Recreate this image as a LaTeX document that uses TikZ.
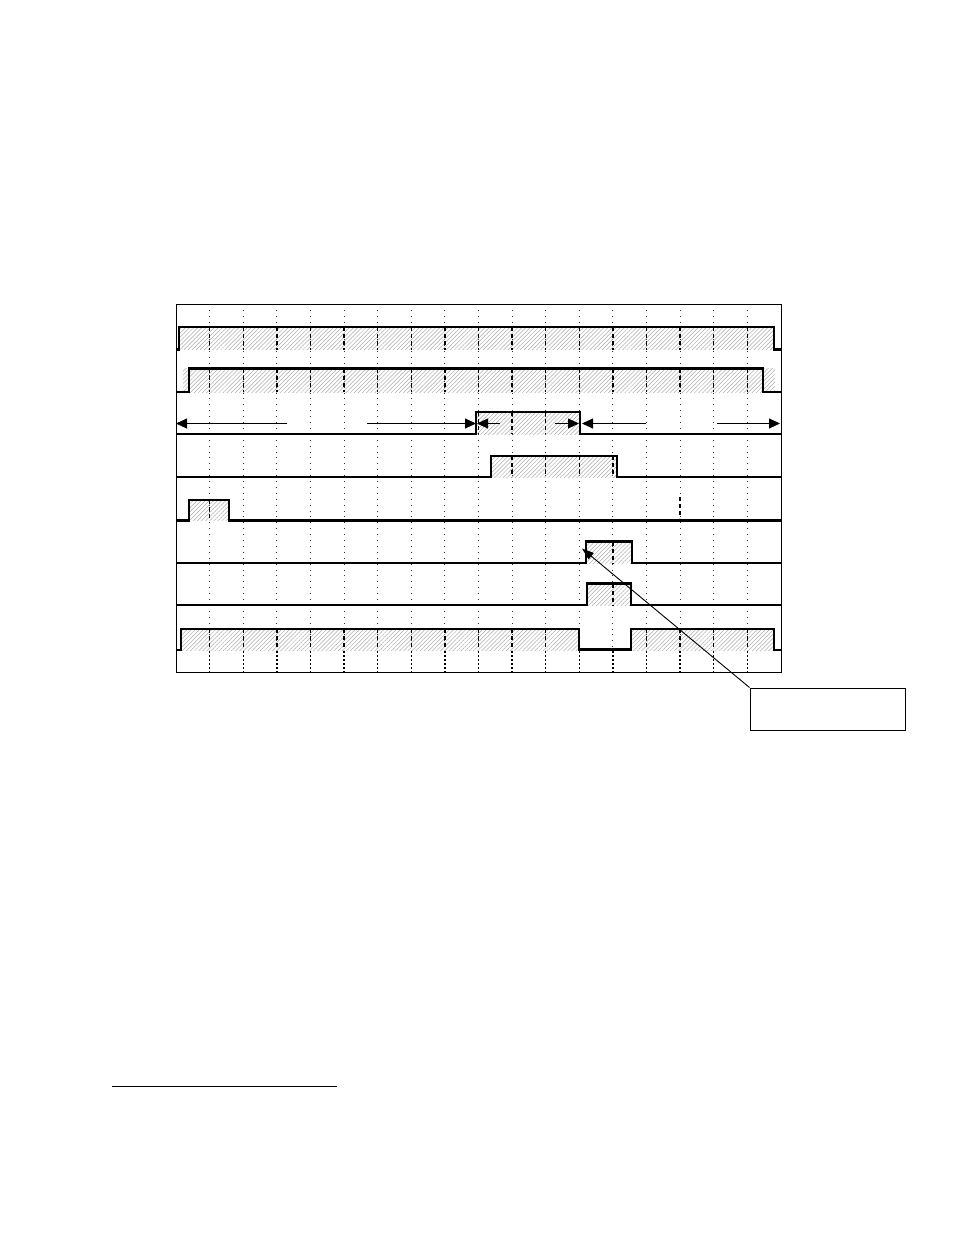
\documentclass[tikz,border=0pt]{standalone}
\usepackage{tikz}
\usetikzlibrary{arrows.meta,patterns.meta}

% hatched pulse area, with the grid lines inside it drawn dashed
\newcommand{\hatchbox}[4]{%
	\fill[hatch] (#1,#3) rectangle (#2,#4);
	\begin{scope}
		\clip (#1,#3) rectangle (#2,#4);
		\foreach \k in {1,...,17}
			\draw[gridbold] ({176+33.6*\k},#3) -- ({176+33.6*\k},#4);
	\end{scope}}

\begin{document}
\begin{tikzpicture}[x=1pt, y=-1pt,
	grid/.style={dash pattern=on 0.9pt off 5pt, line width=0.8pt, black!80},
	gridbold/.style={dash pattern=on 4pt off 3pt, line width=1.4pt},
	hatch/.style={pattern={Lines[angle=45,distance=2.9pt,line width=0.5pt]}, pattern color=gray!65},
	signal/.style={line width=2.3pt},
	span/.style={line width=0.9pt, -{Triangle[length=11pt,width=10pt]}}]
	\useasboundingbox (0,0) rectangle (954,1235);

	% Grid of the timing chart
	\foreach \k in {1,...,17}
		\draw[grid] ({176+33.6*\k},304) -- ({176+33.6*\k},650);
	\foreach \k in {1,...,17}
		\draw[dash pattern=on 2pt off 2pt, line width=1.4pt] ({176+33.6*\k},651) -- ({176+33.6*\k},672);
	\draw[gridbold] (680, 497) -- (680, 518);

	% Hatched parts of the signals
	\hatchbox{179}{774}{327}{349.5}
	\hatchbox{183}{775}{368.5}{392}
	\hatchbox{476}{580}{412}{434}
	\hatchbox{491}{617}{456}{477}
	\hatchbox{189}{229}{500}{520.5}
	\hatchbox{586}{632}{541.5}{563}
	\hatchbox{587}{631}{583.5}{605}
	\hatchbox{181}{579}{629}{650}
	\hatchbox{631}{774}{629}{650}

	% Signals, from top to bottom
	\draw[signal] (176, 349.5) -- (179, 349.5) -- (179, 327) -- (774, 327) -- (774, 349.5) -- (781, 349.5);
	\draw[signal] (176, 392) -- (189, 392) -- (189, 368.5) -- (763, 368.5) -- (763, 392) -- (781, 392);
	\draw[signal] (176, 434) -- (476, 434) -- (476, 412) -- (580, 412) -- (580, 434) -- (781, 434);
	\draw[signal] (176, 477) -- (491, 477) -- (491, 456) -- (617, 456) -- (617, 477) -- (781, 477);
	\draw[signal] (176, 520.5) -- (189, 520.5) -- (189, 500) -- (229, 500) -- (229, 520.5) -- (781, 520.5);
	\draw[signal] (176, 563) -- (586, 563) -- (586, 541.5) -- (632, 541.5) -- (632, 563) -- (781, 563);
	\draw[signal] (176, 605) -- (587, 605) -- (587, 583.5) -- (631, 583.5) -- (631, 605) -- (781, 605);
	\draw[signal] (176, 650) -- (181, 650) -- (181, 629) -- (579, 629) -- (579, 649.5) -- (631, 649.5) -- (631, 629) -- (774, 629) -- (774, 650) -- (781, 650);

	% Spans marked on the third signal
	\draw[span] (287, 423.5) -- (176, 423.5);
	\draw[span] (367, 423.5) -- (476, 423.5);
	\draw[span] (500, 423.5) -- (477, 423.5);
	\draw[span] (555, 423.5) -- (579, 423.5);
	\draw[span] (646, 423.5) -- (582, 423.5);
	\draw[span] (717, 423.5) -- (780, 423.5);

	% Frame
	\draw[line width=0.9pt] (176, 304.5) rectangle (781, 672);

	% Callout
	\node[draw, line width=0.9pt, anchor=north west, inner sep=0pt, minimum width=155pt, minimum height=42pt] (note) at (749.5, 687.5) {};
	\coordinate (edge) at (582, 548.5);
	\draw[line width=0.9pt, -{Triangle[length=12pt,width=8pt]}] (note.north west) -- (edge);

	% Footnote rule
	\draw[line width=1pt] (112, 1086) -- (337, 1086);
\end{tikzpicture}
\end{document}
